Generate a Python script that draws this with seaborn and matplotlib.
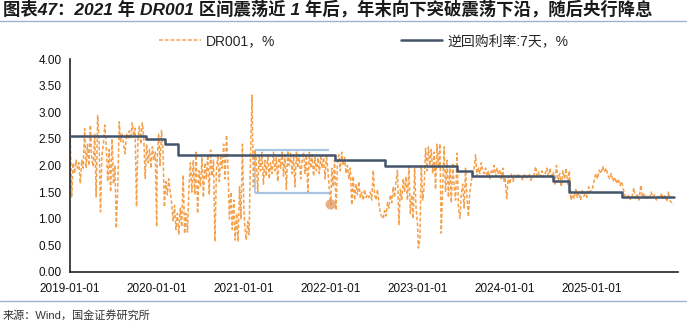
import pandas as pd
import matplotlib
matplotlib.use("Agg")
import matplotlib.pyplot as plt
import matplotlib.dates as mdates
from matplotlib.lines import Line2D
import seaborn as sns

# ---- DR001 overnight repo rate (%), read roughly weekly, one list per year ----
dr_2019 = [2.50, 1.41, 2.05, 1.85, 2.10, 1.95,
           2.05, 1.66, 2.10, 1.95, 2.69,
           1.95, 2.40, 2.00, 2.76, 2.10,
           1.98, 2.60, 1.41, 2.94, 2.50,
           1.13, 2.20, 2.40, 2.76, 2.35,
           1.70, 2.30, 1.50, 2.50, 1.65,
           2.00, 0.82, 1.60, 2.82, 2.45,
           2.60, 2.40, 2.22, 2.60, 2.50,
           2.65, 2.50, 2.80, 2.55, 2.70,
           1.23, 2.50, 2.75, 2.40, 2.80,
           2.55, 1.76, 2.40, 2.05, 2.30,
           1.95, 2.35, 2.10, 2.25, 0.85]
dr_2020 = [2.10, 2.60, 2.00, 2.66, 2.30,
           1.22, 1.70, 1.45, 1.75, 1.50,
           1.30, 0.95, 1.25, 0.80, 1.10,
           0.70, 1.20, 0.85, 1.82, 0.72,
           1.10, 0.75, 1.60, 2.05, 1.50,
           2.10, 1.45, 2.25, 1.10, 1.90,
           1.60, 2.15, 1.40, 2.05, 1.75,
           2.20, 1.45, 2.29, 1.80, 2.10,
           0.57, 1.90, 2.20, 1.70, 2.15,
           1.95, 2.40, 1.75, 2.57, 2.00,
           1.00, 1.50, 0.80, 1.35, 0.60,
           1.10, 0.57, 1.60, 1.00, 2.40, 1.20]
dr_2021 = [0.85, 0.60, 0.95, 0.70, 2.20, 3.32,
           1.60, 2.30, 2.10, 1.50, 2.20,
           1.90, 2.25, 1.65, 2.10, 1.80,
           2.20, 1.75, 2.05, 1.85, 2.25,
           1.90, 2.15, 1.70, 2.20, 1.95,
           2.25, 1.80, 2.20, 1.55, 2.28,
           2.00, 2.25, 1.85, 2.20, 1.60,
           2.25, 1.95, 2.20, 1.75, 2.10,
           2.25, 1.85, 2.20, 1.50, 2.25,
           1.95, 2.20, 1.80, 2.15, 1.90,
           2.15, 1.85, 2.20, 1.95, 2.15,
           1.75, 2.20, 1.90, 1.55, 1.27]
dr_2022 = [1.95, 1.60, 2.10, 1.16, 2.05, 2.20,
           1.90, 2.25, 2.00, 2.15, 1.85,
           2.00, 1.75, 1.95, 1.26, 1.80,
           1.35, 1.65, 1.45, 1.70, 1.40,
           1.50, 1.35, 1.55, 1.40, 1.45,
           1.40, 1.50, 1.35, 1.91, 1.45,
           1.35, 1.55, 1.30, 1.10, 1.05,
           1.00, 1.15, 1.05, 1.30, 1.20,
           1.45, 1.30, 1.60, 1.40, 1.70,
           1.91, 0.88, 1.55, 1.35, 1.75,
           1.50, 1.79, 1.35, 1.98, 1.10,
           1.45, 1.00, 1.95, 1.20, 0.90]
dr_2023 = [0.45, 0.60, 2.00, 1.35, 1.60, 2.32,
           1.90, 2.35, 2.00, 2.30, 1.85,
           2.25, 1.55, 2.40, 1.95, 2.41,
           0.73, 1.60, 2.35, 1.50, 2.10,
           1.40, 1.95, 1.30, 2.05, 1.60,
           1.35, 2.23, 1.20, 1.01, 1.45,
           1.65, 1.20, 1.95, 1.40, 1.04,
           1.50, 1.70, 1.85, 1.95, 2.20,
           1.80, 1.95, 1.85, 2.05, 1.90,
           1.85, 1.95, 1.80, 1.90, 1.75,
           1.90, 1.85, 2.00, 1.80, 1.95,
           1.85, 1.90, 1.75, 1.95, 1.70]
dr_2024 = [1.75, 1.38, 1.80, 1.65, 1.85,
           1.70, 1.82, 1.75, 1.85, 1.78,
           1.80, 1.72, 1.85, 1.75,
           1.78, 1.85, 1.72, 1.80,
           1.82, 1.98, 1.78, 1.88,
           1.80, 1.90, 1.78, 1.85, 1.95,
           1.80, 1.95, 1.75, 1.88, 1.65,
           2.00, 1.70, 1.85, 1.60, 1.90,
           1.75, 1.95, 1.65, 1.90, 1.35,
           1.45, 1.38, 1.55, 1.40,
           1.50, 1.35, 1.55, 1.42,
           1.48, 1.40, 1.60, 1.50, 1.55]
dr_2025 = [1.55, 1.70, 1.85, 1.75, 1.91,
           1.85, 1.98, 1.88, 1.95,
           1.82, 1.75, 1.85, 1.70,
           1.78, 1.66, 1.75, 1.62,
           1.70, 1.55, 1.42, 1.38,
           1.45, 1.36, 1.42, 1.58,
           1.38, 1.45, 1.35, 1.63,
           1.40, 1.48, 1.36, 1.42,
           1.38, 1.50, 1.40, 1.45,
           1.35, 1.42, 1.38, 1.48,
           1.36, 1.45, 1.32, 1.50,
           1.33, 1.30, 1.26]

# first / last observation date of each yearly list
dr_years = [dr_2019, dr_2020, dr_2021, dr_2022, dr_2023, dr_2024, dr_2025]
dr_spans = [("2019-01-02", "2019-12-31"), ("2020-01-02", "2020-12-31"),
            ("2021-01-04", "2021-12-31"), ("2022-01-04", "2022-12-30"),
            ("2023-01-03", "2023-12-29"), ("2024-01-02", "2024-12-31"),
            ("2025-01-02", "2025-12-10")]

# ---- 7-day reverse repo policy rate (%), effective dates ----
rr_dates = ["2019-01-01", "2019-11-18", "2020-02-03", "2020-03-30", "2022-01-17",
            "2022-08-15", "2023-06-13", "2023-08-15", "2024-07-22", "2024-09-27",
            "2025-05-08", "2025-12-10"]
rr_rates = [2.55, 2.50, 2.40, 2.20, 2.10, 2.00, 1.90, 1.80, 1.70, 1.50, 1.40, 1.40]

# 2021 trading range and the year-end breakout point
range_start, range_end = "2021-02-15", "2021-12-24"
range_high, range_low = 2.30, 1.48
breakout_date, breakout_value = "2021-12-31", 1.27

xtick_labels = ["2019-01-01", "2020-01-01", "2021-01-01", "2022-01-01",
                "2023-01-01", "2024-01-01", "2025-01-01"]
yticks = [0.0, 0.5, 1.0, 1.5, 2.0, 2.5, 3.0, 3.5, 4.0]

title = "图表47：2021 年 DR001 区间震荡近 1 年后，年末向下突破震荡下沿，随后央行降息"
source = "来源：Wind，国金证券研究所"
label_dr = "DR001，%"
label_rr = "逆回购利率:7天，%"

# ---- assemble frames ----
frames = []
for vals, (d0, d1) in zip(dr_years, dr_spans):
    frames.append(pd.DataFrame({"date": pd.date_range(d0, d1, periods=len(vals)),
                                "value": vals}))
dr_df = pd.concat(frames, ignore_index=True)
rr_df = pd.DataFrame({"date": pd.to_datetime(rr_dates), "value": rr_rates})

# ---- style ----
sns.set_style("white")
fams = ["Liberation Sans", "Noto Sans CJK SC"]
plt.rcParams["font.family"] = fams
plt.rcParams["axes.unicode_minus"] = False

ORANGE = "#f5a04b"
NAVY = "#44546a"
BOXBLUE = "#a9c5e4"
RULE = "#9fb4c9"

W, H = 687, 322
fig = plt.figure(figsize=(W / 100, H / 100), dpi=100)
ax = fig.add_axes([70 / W, 1 - 272 / H, (678 - 70) / W, (272 - 59) / H])

# trading-range box (top, bottom, left edge)
ax.hlines([range_high, range_low], pd.Timestamp(range_start), pd.Timestamp(range_end),
          color=BOXBLUE, lw=1.6, zorder=1)
ax.vlines(pd.Timestamp(range_start), range_low, range_high, color=BOXBLUE, lw=1.2, zorder=1)

sns.lineplot(data=dr_df, x="date", y="value", ax=ax, color=ORANGE, lw=1.1,
             linestyle=(0, (2.4, 1.4)), sort=False, errorbar=None, label=label_dr, zorder=2)
sns.lineplot(data=rr_df, x="date", y="value", ax=ax, color=NAVY, lw=1.8,
             drawstyle="steps-post", sort=False, errorbar=None, label=label_rr, zorder=3)
sns.scatterplot(x=[pd.Timestamp(breakout_date)], y=[breakout_value], ax=ax,
                s=55, color="#e0955a", alpha=0.75, edgecolor="none", zorder=4, legend=False)

ax.set_xlim(pd.Timestamp("2019-01-01"), pd.Timestamp("2025-12-28"))
ax.set_ylim(0, 4)
ax.set_xticks(pd.to_datetime(xtick_labels))
ax.xaxis.set_major_formatter(mdates.DateFormatter("%Y-%m-%d"))
ax.set_yticks(yticks)
ax.set_yticklabels([f"{v:.2f}" for v in yticks])
ax.set_xlabel("")
ax.set_ylabel("")

for s in ["top", "right"]:
    ax.spines[s].set_visible(False)
for s in ["left", "bottom"]:
    ax.spines[s].set_color("#222222")
    ax.spines[s].set_linewidth(1.2)
ax.tick_params(axis="both", direction="in", length=4, width=1.0, color="#222222",
               labelsize=8.5, labelcolor="#111111")
ax.tick_params(axis="x", pad=8)
ax.tick_params(axis="y", pad=6)

# legend across the top
handles = [Line2D([], [], color=ORANGE, lw=1.1, linestyle=(0, (2.4, 1.4))),
           Line2D([], [], color=NAVY, lw=1.8)]
ax.legend(handles, [label_dr, label_rr], ncol=2, frameon=False, fontsize=10,
          loc="center", bbox_to_anchor=(364 / W, 1 - 41 / H),
          bbox_transform=fig.transFigure, handlelength=3.0, handletextpad=0.4,
          columnspacing=9.0)

# title, rules and source line
fig.text(3 / W, 1 - 9 / H, title, fontsize=12.5, fontweight="bold", style="italic",
         family=fams, va="center", ha="left", color="#1a1a1a")
fig.add_artist(Line2D([0, 1], [1 - 21 / H] * 2, color=RULE, lw=1.0))
fig.add_artist(Line2D([0, 1], [1 - 301 / H] * 2, color=RULE, lw=1.0))
fig.text(3 / W, 1 - 315 / H, source, fontsize=8, family=fams, va="center",
         ha="left", color="#333333")

fig.savefig("out.png", dpi=100)
